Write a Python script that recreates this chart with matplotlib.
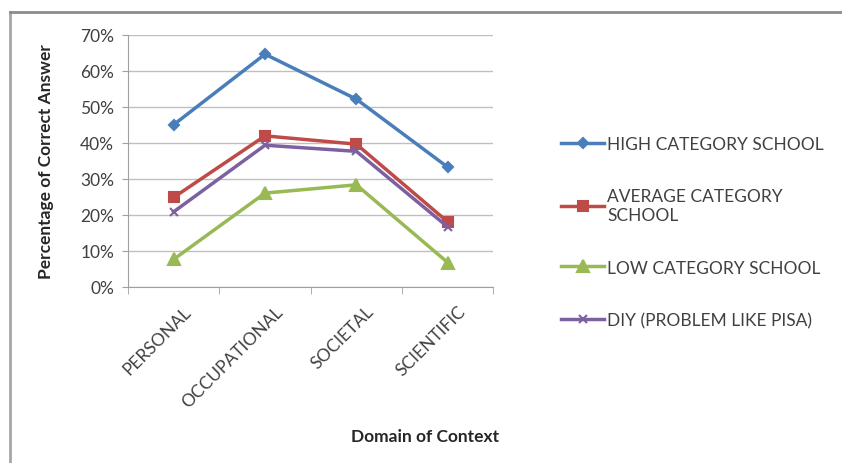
import numpy as np
import matplotlib.pyplot as plt
from matplotlib.lines import Line2D
from matplotlib.ticker import PercentFormatter
from matplotlib.transforms import ScaledTranslation

plt.rcParams["font.family"] = ["Lato", "DejaVu Sans"]

domains = ["PERSONAL", "OCCUPATIONAL", "SOCIETAL", "SCIENTIFIC"]
high = [45.0, 64.6, 52.1, 33.2]
average = [24.8, 41.9, 39.6, 18.0]
low = [7.6, 26.0, 28.3, 6.7]
diy = [20.8, 39.3, 37.6, 16.6]

series = [
    ("HIGH CATEGORY SCHOOL", high, "#4A7EBB", "D", 5),
    ("AVERAGE CATEGORY\nSCHOOL", average, "#BE4B48", "s", 7.5),
    ("LOW CATEGORY SCHOOL", low, "#98B954", "^", 8),
    ("DIY (PROBLEM LIKE PISA)", diy, "#7D60A0", "x", 6),
]

fs = 12.5
fig = plt.figure(figsize=(8.42, 4.64), dpi=100)
ax = fig.add_axes([0.152, 0.380, 0.434, 0.543])

x = np.arange(len(domains))
for name, vals, col, mk, ms in series:
    ax.plot(x, vals, color=col, lw=2.5, marker=mk, ms=ms, mec=col, mfc=col,
            mew=1.5, label=name, zorder=3)

ax.set_xlim(-0.5, len(domains) - 0.5)
ax.set_ylim(0, 70)
ax.set_yticks(np.arange(0, 71, 10))
ax.yaxis.set_major_formatter(PercentFormatter(decimals=0))
ax.grid(axis="y", color="#BFBFBF", lw=1)
ax.set_axisbelow(True)

# category labels, rotated, anchored a little right of / below each category
ax.set_xticks([])
ax.set_xticks(np.arange(-0.5, len(domains)), minor=True)
ax.tick_params(axis="x", which="minor", length=5, color="#A0A0A0")
offset = ScaledTranslation(15 / 100, -22 / 100, fig.dpi_scale_trans)
for xi, name in zip(x, domains):
    ax.text(xi, 0, name, transform=ax.get_xaxis_transform() + offset,
            rotation=45, ha="right", va="center", rotation_mode="anchor",
            fontsize=fs, color="#404040")

ax.tick_params(axis="y", length=4, color="#A0A0A0", labelsize=fs,
               labelcolor="#404040", pad=6)

for s in ["top", "right"]:
    ax.spines[s].set_visible(False)
for s in ["left", "bottom"]:
    ax.spines[s].set_color("#A0A0A0")

ax.set_ylabel("Percentage of Correct Answer", fontsize=fs, fontweight="bold",
              color="#262626")
ax.yaxis.set_label_coords(-0.203, 0.5)
fig.text(425 / 842, 1 - 437 / 464, "Domain of Context", fontsize=fs,
         fontweight="bold", color="#262626", ha="center", va="center")

fig.legend(*ax.get_legend_handles_labels(), loc="upper left",
           bbox_to_anchor=(561 / 842, 1 - 137 / 464), frameon=False,
           fontsize=fs, labelspacing=2.1, handlelength=2.5,
           handletextpad=0.15, labelcolor="#404040", borderaxespad=0,
           borderpad=0)

# chart frame (top and left edges)
fig.add_artist(Line2D([10 / 842, 10 / 842], [0, 1 - 13 / 464],
                      transform=fig.transFigure, color="#A6A6A6", lw=2))
fig.add_artist(Line2D([10 / 842, 1], [1 - 13 / 464, 1 - 13 / 464],
                      transform=fig.transFigure, color="#8C8C8C", lw=2))

fig.savefig("out.png", dpi=100)
